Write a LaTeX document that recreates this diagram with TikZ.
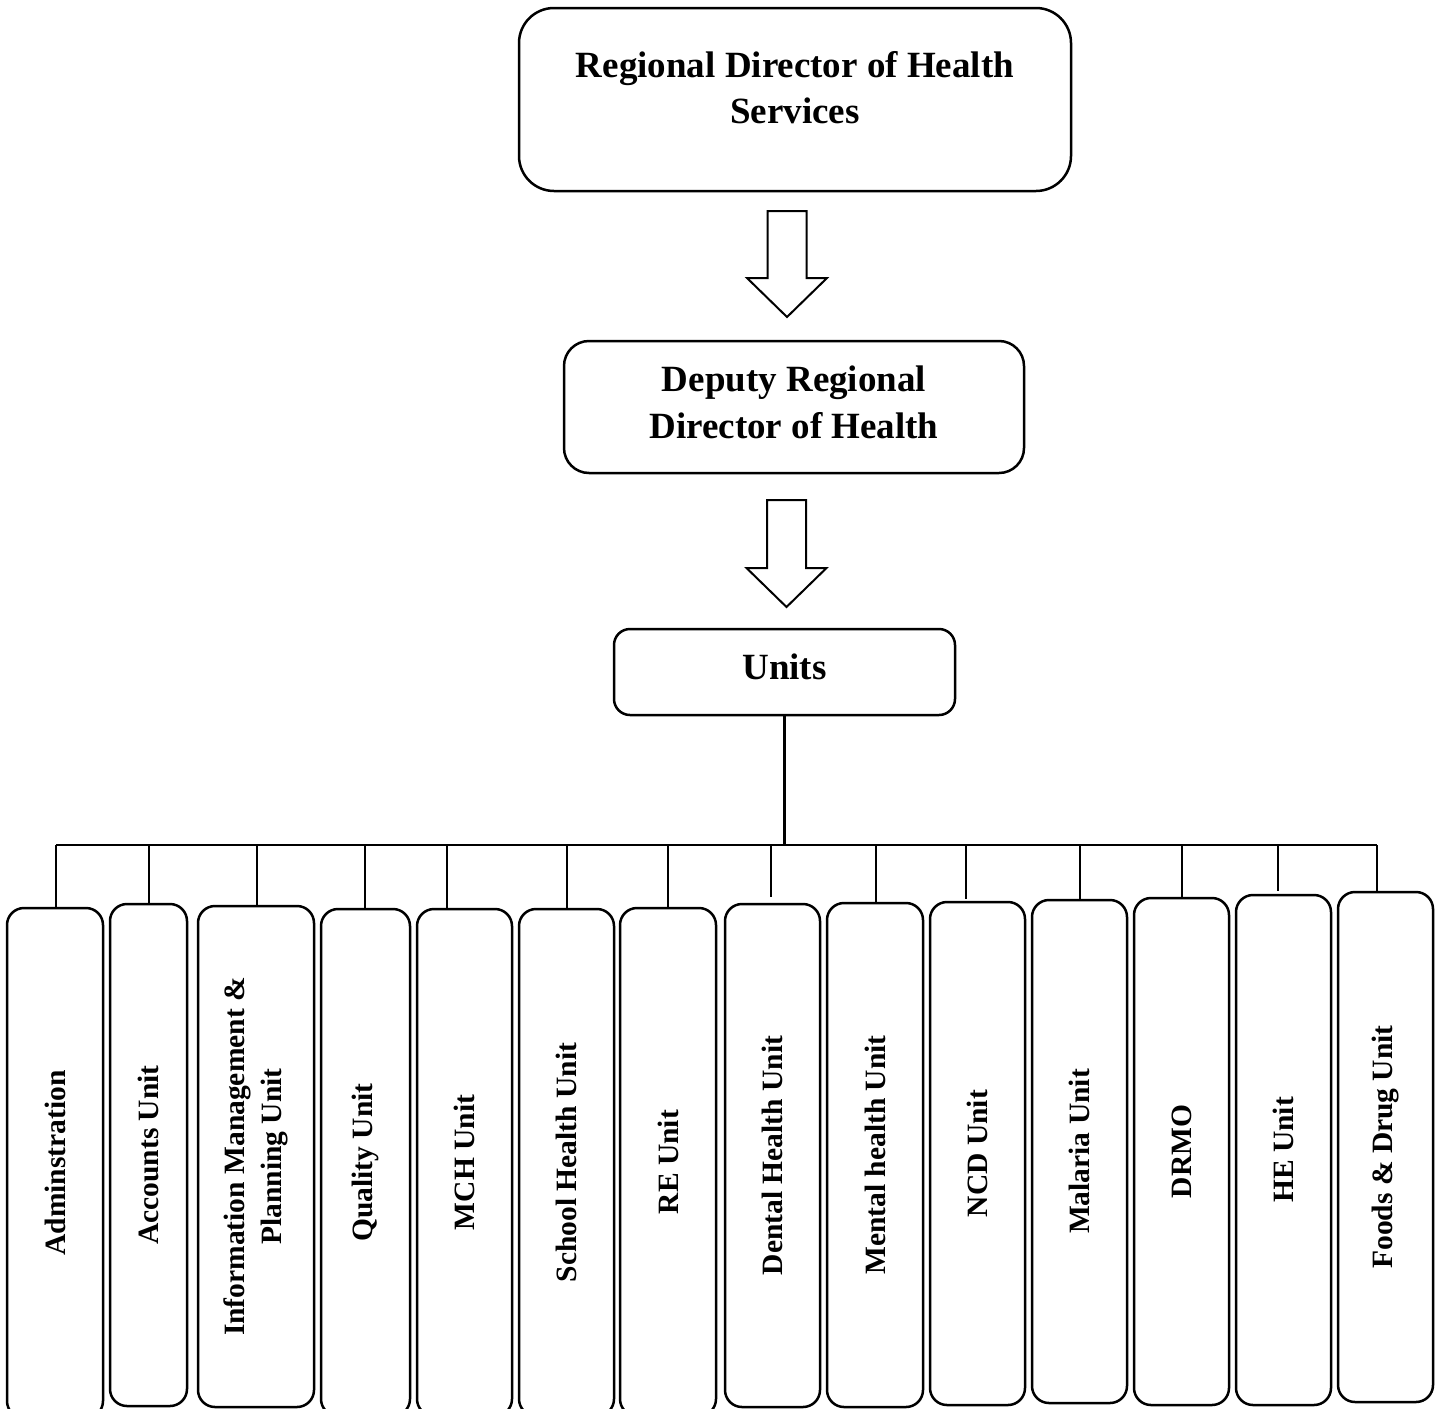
\documentclass[tikz,border=0pt]{standalone}
\usepackage{fontspec}
\setmainfont{Liberation Serif}
\tikzset{
  headbox/.style={draw, line width=2.5pt, rounded corners=#1, align=center, inner sep=0pt,
    font=\fontsize{37}{46.5}\selectfont\bfseries},
  unitbox/.style={draw, line width=2.5pt, rounded corners=17pt, rotate=90, align=center, inner sep=0pt,
    font=\fontsize{29.5}{37}\selectfont\bfseries},
  link/.style={line width=2.5pt},
  blockarrow/.style={draw, line width=2pt, line join=miter}
}
\begin{document}
\begin{tikzpicture}[x=1pt,y=-1pt]
            \useasboundingbox (0,0) rectangle (1442,1408);
            % head of the chart
            \node[headbox=35pt, minimum width=552pt, minimum height=183pt, text depth=24pt] (rdhs) at (795,99.5) {Regional Director of Health\\Services};
            \node[headbox=25pt, minimum width=460pt, minimum height=132pt, text depth=10pt] (drdh) at (794,407) {Deputy Regional\\Director of Health};
            \node[headbox=16pt, minimum width=341pt, minimum height=86pt, text depth=11pt] (units) at (784.5,672) {Units};
            % block arrows
            \coordinate (a1) at (787,211);
            \coordinate (a2) at (786.5,500);
            \draw[blockarrow] ([xshift=-19.5pt]a1) -- ++(39,0) -- ++(0,67) -- ++(20.5,0) -- ++(-40,39) -- ++(-40,-39) -- ++(20.5,0) -- cycle;
            \draw[blockarrow] ([xshift=-19.5pt]a2) -- ++(39,0) -- ++(0,68) -- ++(20.5,0) -- ++(-40,39) -- ++(-40,-39) -- ++(20.5,0) -- cycle;
            % units
            \node[unitbox, minimum width=510pt, minimum height=96pt] (adm) at (55,1163) {Adminstration};
            \node[unitbox, minimum width=502pt, minimum height=77pt] (acc) at (148.5,1155) {Accounts Unit};
            \node[unitbox, minimum width=501pt, minimum height=116pt] (imp) at (256,1156.5) {Information Management \&\\Planning Unit};
            \node[unitbox, minimum width=507pt, minimum height=89pt] (qual) at (365.5,1162.5) {Quality Unit};
            \node[unitbox, minimum width=507pt, minimum height=95pt] (mch) at (464.5,1162.5) {MCH Unit};
            \node[unitbox, minimum width=507pt, minimum height=95pt] (sch) at (566.5,1162.5) {School Health Unit};
            \node[unitbox, minimum width=508pt, minimum height=96pt] (re) at (668,1162) {RE Unit};
            \node[unitbox, minimum width=503pt, minimum height=95pt] (dent) at (772.5,1155.5) {Dental Health Unit};
            \node[unitbox, minimum width=504pt, minimum height=96pt] (ment) at (875,1155) {Mental health Unit};
            \node[unitbox, minimum width=503pt, minimum height=95pt] (ncd) at (977.5,1153.5) {NCD Unit};
            \node[unitbox, minimum width=503pt, minimum height=95pt] (mal) at (1079.5,1151.5) {Malaria Unit};
            \node[unitbox, minimum width=507pt, minimum height=95pt] (drmo) at (1181.5,1151.5) {DRMO};
            \node[unitbox, minimum width=510pt, minimum height=95pt] (he) at (1283.5,1150) {HE Unit};
            \node[unitbox, minimum width=510pt, minimum height=95pt] (fd) at (1385.5,1147) {Foods \& Drug Unit};
            % bus
            \coordinate (d1) at (56,845);
            \coordinate (d2) at (149,845);
            \coordinate (d3) at (257,845);
            \coordinate (d4) at (365,845);
            \coordinate (d5) at (447,845);
            \coordinate (d6) at (567,845);
            \coordinate (d7) at (668,845);
            \coordinate (d8) at (771,845);
            \coordinate (d9) at (876,845);
            \coordinate (d10) at (966,845);
            \coordinate (d11) at (1080,845);
            \coordinate (d12) at (1182,845);
            \coordinate (d13) at (1278,845);
            \coordinate (d14) at (1377,845);
            \draw[link] (units.south) -- (units.south |- d1);
            \draw[link] (d1) -- (d14);
            \draw[link] (d1) -- (d1 |- adm.east);
            \draw[link] (d2) -- (d2 |- acc.east);
            \draw[link] (d3) -- (d3 |- imp.east);
            \draw[link] (d4) -- (d4 |- qual.east);
            \draw[link] (d5) -- (d5 |- mch.east);
            \draw[link] (d6) -- (d6 |- sch.east);
            \draw[link] (d7) -- (d7 |- re.east);
            \draw[link, shorten >=6pt] (d8) -- (d8 |- dent.east);
            \draw[link] (d9) -- (d9 |- ment.east);
            \draw[link, shorten >=2pt] (d10) -- (d10 |- ncd.east);
            \draw[link] (d11) -- (d11 |- mal.east);
            \draw[link] (d12) -- (d12 |- drmo.east);
            \draw[link, shorten >=3pt] (d13) -- (d13 |- he.east);
            \draw[link] (d14) -- (d14 |- fd.east);
\end{tikzpicture}
\end{document}
